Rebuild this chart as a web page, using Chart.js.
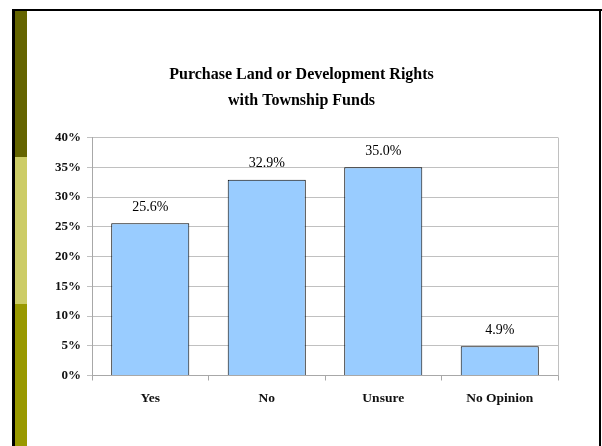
<!DOCTYPE html>
<html>
<head>
<meta charset="utf-8">
<script src="https://cdn.jsdelivr.net/npm/chart.js@4"></script>
<style>
html,body{margin:0;padding:0;background:#fff;}
body{width:602px;height:446px;position:relative;overflow:hidden;}
.frameTop{position:absolute;left:12px;top:9px;width:590px;height:2px;background:#000;}
.frameLeft{position:absolute;left:12px;top:9px;width:3px;height:437px;background:#000;}
.frameRight{position:absolute;left:599px;top:9px;width:2px;height:437px;background:#000;}
.s1{position:absolute;left:15px;top:11px;width:12px;height:146px;background:#646400;}
.s2{position:absolute;left:15px;top:157px;width:12px;height:147px;background:#CCCC66;}
.s3{position:absolute;left:15px;top:304px;width:12px;height:142px;background:#999900;}
canvas{position:absolute;left:0;top:0;}
</style>
</head>
<body>
<div class="frameTop"></div><div class="frameLeft"></div><div class="frameRight"></div>
<div class="s1"></div><div class="s2"></div><div class="s3"></div>
<canvas id="c" width="602" height="446"></canvas>
<script>
const titleLines = ["Purchase Land or Development Rights", "with Township Funds"];
const categories = ["Yes", "No", "Unsure", "No Opinion"];
const values = [25.6, 32.9, 35.0, 4.9];
const yTicks = [0, 5, 10, 15, 20, 25, 30, 35, 40];

const FONT = "'Liberation Serif', 'Times New Roman', serif";

const valueLabels = {
  id: 'valueLabels',
  afterDatasetsDraw(chart) {
    const ctx = chart.ctx;
    const meta = chart.getDatasetMeta(0);
    ctx.save();
    ctx.font = "14px " + FONT;
    ctx.fillStyle = "#000";
    ctx.textAlign = "center";
    ctx.textBaseline = "middle";
    meta.data.forEach((bar, i) => {
      ctx.fillText(values[i].toFixed(1) + "%", bar.x, bar.y - 16);
    });
    ctx.restore();
  }
};

const rightBorder = {
  id: 'rightBorder',
  beforeDatasetsDraw(chart) {
    const a = chart.chartArea, ctx = chart.ctx;
    ctx.save();
    ctx.strokeStyle = "#c0c0c0";
    ctx.lineWidth = 1;
    ctx.beginPath();
    ctx.moveTo(Math.round(a.right) + 0.5, a.top);
    ctx.lineTo(Math.round(a.right) + 0.5, a.bottom);
    ctx.stroke();
    ctx.restore();
  }
};

new Chart(document.getElementById('c'), {
  type: 'bar',
  data: {
    labels: categories,
    datasets: [{
      data: values,
      backgroundColor: '#99CCFF',
      borderColor: '#000',
      borderWidth: 1,
      barPercentage: 0.67,
      categoryPercentage: 1.0
    }]
  },
  options: {
    responsive: false,
    animation: false,
    layout: { padding: { left: 45, right: 44, top: 0, bottom: 0 } },
    plugins: {
      legend: { display: false },
      tooltip: { enabled: false },
      title: {
        display: true,
        text: titleLines,
        color: '#000',
        font: { family: FONT, size: 16, weight: 'bold', lineHeight: 1.625 },
        padding: { top: 62, bottom: 23.5 }
      }
    },
    scales: {
      x: {
        offset: true,
        grid: { offset: true, drawOnChartArea: false, drawTicks: true, tickLength: 5, color: '#a8a8a8' },
        border: { color: '#a8a8a8' },
        ticks: { color: '#111', font: { family: FONT, size: 13.5, weight: 'bold' }, padding: 10, maxRotation: 0 },
        afterFit(s) { s.height = 70.5; }
      },
      y: {
        min: 0, max: 40,
        afterBuildTicks(s) { s.ticks = yTicks.map(v => ({ value: v })); },
        grid: { color: '#c0c0c0', tickLength: 5, drawTicks: true },
        border: { color: '#a8a8a8' },
        ticks: {
          color: '#111', padding: 6,
          font: { family: FONT, size: 13, weight: 'bold' },
          callback: v => v + '%'
        },
        afterFit(s) { s.width = 47; }
      }
    }
  },
  plugins: [rightBorder, valueLabels]
});
</script>
</body>
</html>
